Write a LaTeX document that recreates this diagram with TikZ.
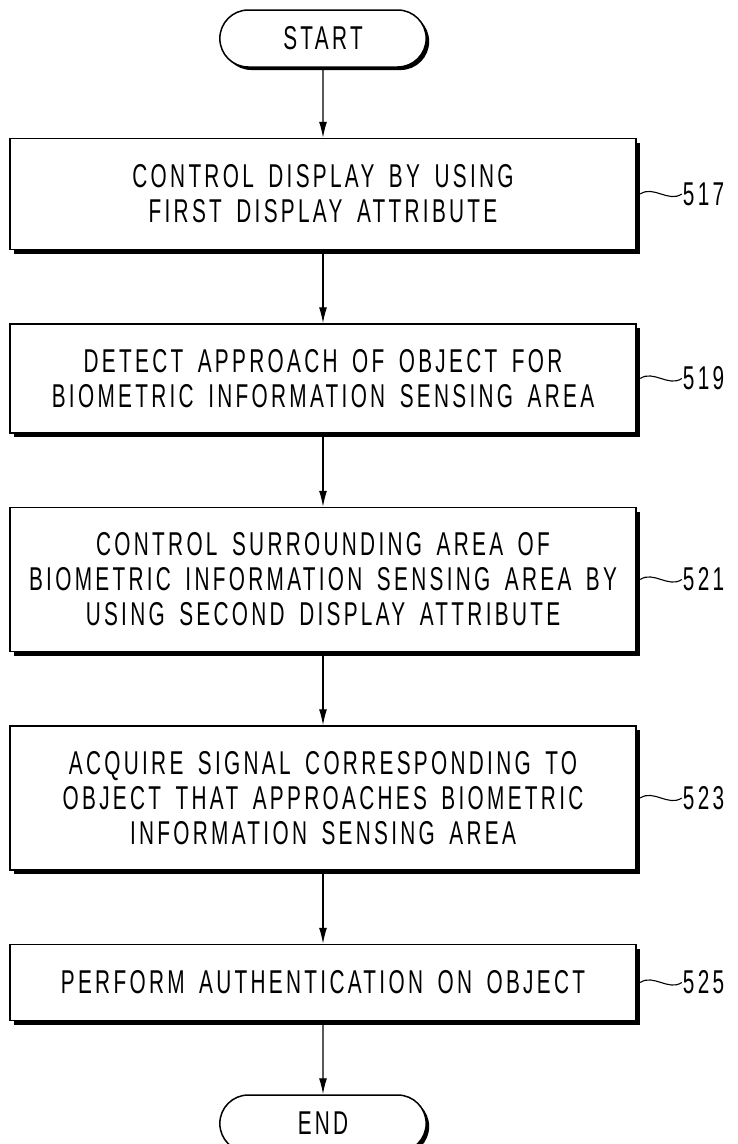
\documentclass[tikz,border=0pt]{standalone}
\usepackage{fontspec}
\setmainfont{Liberation Sans}[FakeStretch=0.63,LetterSpace=10,WordSpace=1.6]
\usetikzlibrary{arrows.meta,positioning,shapes.misc,shadows}

\begin{document}
\begin{tikzpicture}[
    x=1pt, y=1pt,
    node distance=73pt,
    >={Latex[length=16pt,width=8pt]},
    font=\fontsize{33}{35}\selectfont,
    stepbox/.style={
		rectangle,
		draw=black,
		line width=1.5pt,
		fill=white,
		minimum width=626pt,
		minimum height=#1,
		inner sep=4pt,
		align=center,
		drop shadow={shadow xshift=3.5pt, shadow yshift=-4pt, fill=black, opacity=1}
	},
	stepbox/.default=109pt,
	term/.style={
		rounded rectangle,
		draw=black,
		line width=1.5pt,
		fill=white,
		minimum width=213pt,
		minimum height=57pt,
		drop shadow={shadow xshift=3pt, shadow yshift=-3pt, fill=black, opacity=1}
	},
	tag/.style={
		inner sep=1pt
	},
	flow/.style={
		->, line width=1.2pt
	}
  ]
  \useasboundingbox (0,0) rectangle (737,-1144);

  % the steps, top to bottom
  \node [term] (start) at (323,-38.5) {START};
  \node [stepbox=111pt, below=70pt of start] (s517)
  {CONTROL DISPLAY BY USING\\FIRST DISPLAY ATTRIBUTE};
  \node [stepbox, below=of s517] (s519)
  {DETECT APPROACH OF OBJECT FOR\\BIOMETRIC INFORMATION SENSING AREA};
  \node [stepbox=144pt, below=of s519] (s521)
  {CONTROL SURROUNDING AREA OF\\BIOMETRIC INFORMATION SENSING AREA BY\\USING SECOND DISPLAY ATTRIBUTE};
  \node [stepbox=144pt, below=of s521] (s523)
  {ACQUIRE SIGNAL CORRESPONDING TO\\OBJECT THAT APPROACHES BIOMETRIC\\INFORMATION SENSING AREA};
  \node [stepbox=76pt, below=of s523] (s525)
  {PERFORM AUTHENTICATION ON OBJECT};
  \node [term, below=of s525] (end) {END};

  % arrows
  \draw [flow] (start) -- (s517);
  \draw [flow] (s517) -- (s519);
  \draw [flow] (s519) -- (s521);
  \draw [flow] (s521) -- (s523);
  \draw [flow] (s523) -- (s525);
  \draw [flow] (s525) -- (end);

  % reference numerals
  \foreach \n in {517,519,521,523,525} {
    \node [tag, right=45pt of s\n.east, anchor=west] (t\n) {\n};
    \draw [line width=1.1pt] ([xshift=3.5pt]s\n.east) .. controls +(13,9) and +(-13,-9) .. (t\n.west);
  }
\end{tikzpicture}
\end{document}
